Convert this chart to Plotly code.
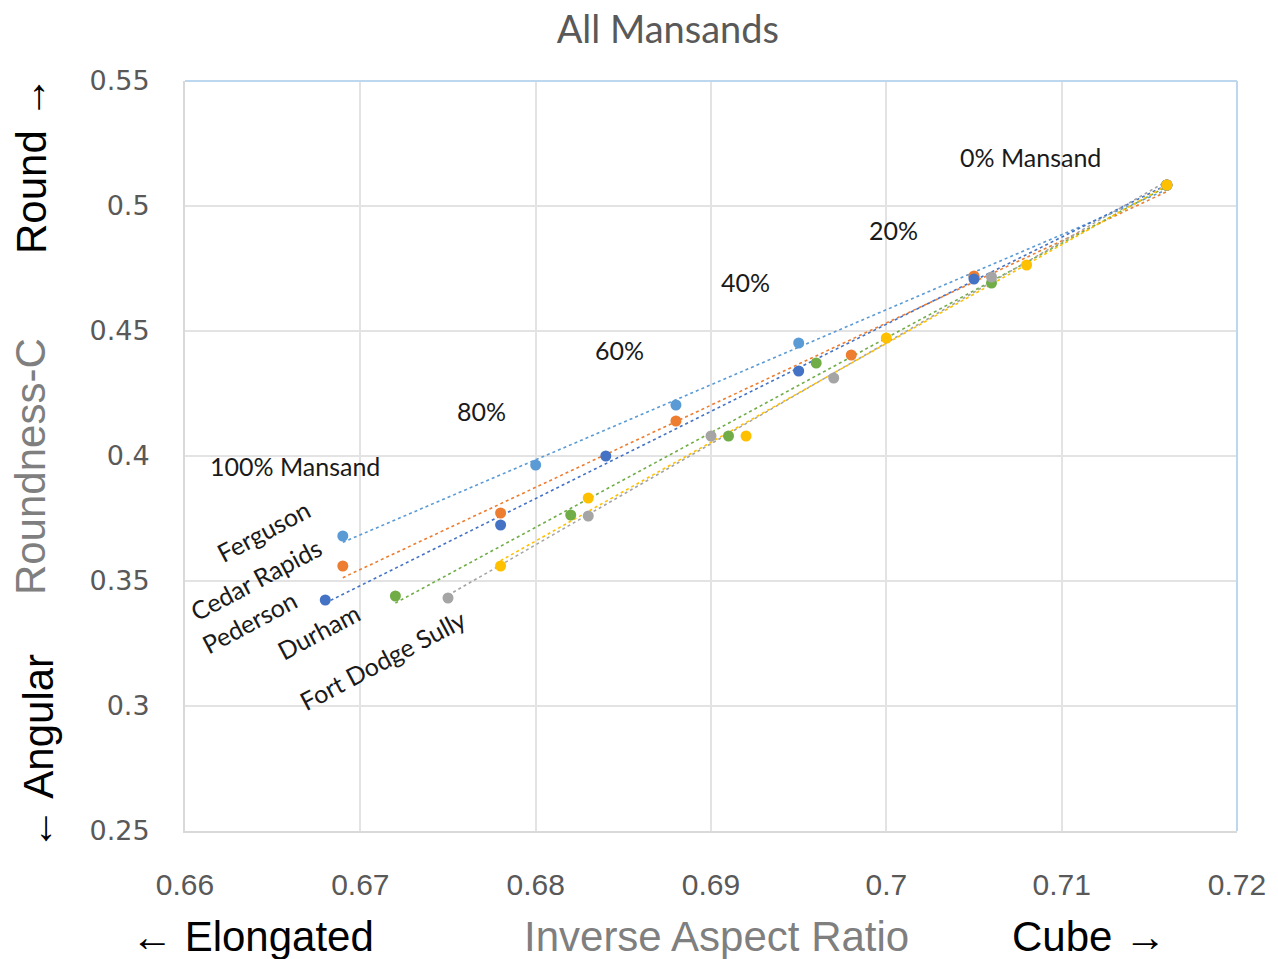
import numpy as np
import plotly.graph_objects as go

series_names = ["Ferguson", "Cedar Rapids", "Pederson", "Durham", "Fort Dodge", "Sully"]
colors = ["#5B9BD5", "#ED7D31", "#4472C4", "#70AD47", "#A5A5A5", "#FFC000"]

# points ordered 100%, 80%, 60%, 40%, 20%, 0% Mansand
ferguson_x = [0.6690, 0.6800, 0.6880, 0.6950, 0.7050, 0.7160]
ferguson_y = [0.368, 0.3964, 0.4204, 0.4452, 0.4716, 0.5084]
cedar_x = [0.6690, 0.6780, 0.6880, 0.6980, 0.7050, 0.7160]
cedar_y = [0.356, 0.3772, 0.414, 0.4404, 0.472, 0.5084]
pederson_x = [0.6680, 0.6780, 0.6840, 0.6950, 0.7050, 0.7160]
pederson_y = [0.3424, 0.3724, 0.400, 0.434, 0.4708, 0.5084]
durham_x = [0.6720, 0.6820, 0.6910, 0.6960, 0.7060, 0.7160]
durham_y = [0.344, 0.3764, 0.408, 0.4372, 0.4692, 0.5084]
fortdodge_x = [0.6750, 0.6830, 0.6900, 0.6970, 0.7060, 0.7160]
fortdodge_y = [0.3432, 0.376, 0.408, 0.4312, 0.4716, 0.5084]
sully_x = [0.6780, 0.6830, 0.6920, 0.7000, 0.7080, 0.7160]
sully_y = [0.356, 0.3832, 0.408, 0.4472, 0.4764, 0.5084]

xs = [ferguson_x, cedar_x, pederson_x, durham_x, fortdodge_x, sully_x]
ys = [ferguson_y, cedar_y, pederson_y, durham_y, fortdodge_y, sully_y]

pct_labels = ["0% Mansand", "20%", "40%", "60%", "80%", "100% Mansand"]
pct_pos = [(0.7041, 0.5196), (0.6989, 0.4904), (0.69046, 0.4696), (0.68327, 0.4424), (0.6754, 0.418), (0.6613, 0.396)]

name_labels = ["Ferguson", "Cedar Rapids", "Pederson", "Durham", "Fort Dodge Sully"]
name_pos = [(0.66445, 0.370), (0.66405, 0.3508), (0.66365, 0.3336), (0.66764, 0.330), (0.67124, 0.3184)]

x_ticks = [0.66, 0.67, 0.68, 0.69, 0.70, 0.71, 0.72]
x_ticktext = ["0.66", "0.67", "0.68", "0.69", "0.7", "0.71", "0.72"]
y_ticks = [0.25, 0.30, 0.35, 0.40, 0.45, 0.50, 0.55]
y_ticktext = ["0.25", "0.3", "0.35", "0.4", "0.45", "0.5", "0.55"]

fig = go.Figure()

for name, c, x, y in zip(series_names, colors, xs, ys):
    xa = np.array(x)
    ya = np.array(y)
    m, b = np.polyfit(xa, ya, 1)
    xl = np.array([xa.min(), xa.max()])
    fig.add_trace(go.Scatter(x=xl, y=m * xl + b, mode="lines",
                             line=dict(color=c, width=1.6, dash="dot"),
                             showlegend=False, hoverinfo="skip"))
for name, c, x, y in zip(series_names, colors, xs, ys):
    fig.add_trace(go.Scatter(x=x, y=y, mode="markers", name=name,
                             marker=dict(color=c, size=11), showlegend=False))

label_font = dict(family="Lato, Open Sans, sans-serif", size=25, color="#1a1a1a")
for t, (px, py) in zip(pct_labels, pct_pos):
    fig.add_annotation(x=px, y=py, text=t, showarrow=False, font=label_font,
                       xanchor="left", yanchor="middle")
for t, (px, py) in zip(name_labels, name_pos):
    fig.add_annotation(x=px, y=py, text=t, showarrow=False, font=label_font,
                       textangle=-28, xanchor="center", yanchor="middle")

axis_font = dict(family="Liberation Sans, Arial, sans-serif", size=42)
fig.add_annotation(xref="paper", yref="paper", x=0.505, y=-0.1413, text="Inverse Aspect Ratio",
                   showarrow=False, font=dict(axis_font, color="#7f7f7f"), xanchor="center", yanchor="middle")
fig.add_annotation(xref="paper", yref="paper", x=0.0637, y=-0.1413, text="← Elongated",
                   showarrow=False, font=dict(axis_font, color="#000000"), xanchor="center", yanchor="middle")
fig.add_annotation(xref="paper", yref="paper", x=0.859, y=-0.1413, text="Cube →",
                   showarrow=False, font=dict(axis_font, color="#000000"), xanchor="center", yanchor="middle")
fig.add_annotation(xref="paper", yref="paper", x=-0.1473, y=0.4853, text="Roundness-C",
                   showarrow=False, textangle=-90, font=dict(axis_font, color="#7f7f7f"),
                   xanchor="center", yanchor="middle")
fig.add_annotation(xref="paper", yref="paper", x=-0.1454, y=0.8867, text="Round →",
                   showarrow=False, textangle=-90, font=dict(axis_font, color="#000000"),
                   xanchor="center", yanchor="middle")
fig.add_annotation(xref="paper", yref="paper", x=-0.1397, y=0.1053, text="← Angular",
                   showarrow=False, textangle=-90, font=dict(axis_font, color="#000000"),
                   xanchor="center", yanchor="middle")

# top/right border in light blue
fig.add_shape(type="line", xref="paper", yref="paper", x0=0, x1=1, y0=1, y1=1,
              line=dict(color="#BDD7EE", width=2))
fig.add_shape(type="line", xref="paper", yref="paper", x0=1, x1=1, y0=0, y1=1,
              line=dict(color="#BDD7EE", width=2))

fig.update_layout(
    width=1278, height=959,
    margin=dict(l=185, r=41, t=81, b=128),
    paper_bgcolor="white", plot_bgcolor="white",
    title=dict(text="All Mansands", xref="paper", x=0.459, xanchor="center",
               yref="container", y=0.9687, yanchor="middle",
               font=dict(family="Lato, Open Sans, sans-serif", size=38, color="#595959")),
    xaxis=dict(range=[0.66, 0.72], tickvals=x_ticks, ticktext=x_ticktext,
               showgrid=True, gridcolor="#E3E3E3", gridwidth=1.5, zeroline=False,
               showline=True, linecolor="#D9D9D9", linewidth=2,
               tickfont=dict(family="Liberation Sans, sans-serif", size=30, color="#595959"),
               ticklabelstandoff=26, ticks=""),
    yaxis=dict(range=[0.25, 0.55], tickvals=y_ticks, ticktext=y_ticktext,
               showgrid=True, gridcolor="#E3E3E3", gridwidth=1.5, zeroline=False,
               showline=True, linecolor="#D9D9D9", linewidth=2,
               tickfont=dict(family="DejaVu Sans, sans-serif", size=27, color="#595959"),
               ticklabelstandoff=28, ticks=""),
)

fig.write_html("out.html", config={"displayModeBar": False},
               post_script="document.body.style.margin='0px';document.body.style.overflow='hidden';")
